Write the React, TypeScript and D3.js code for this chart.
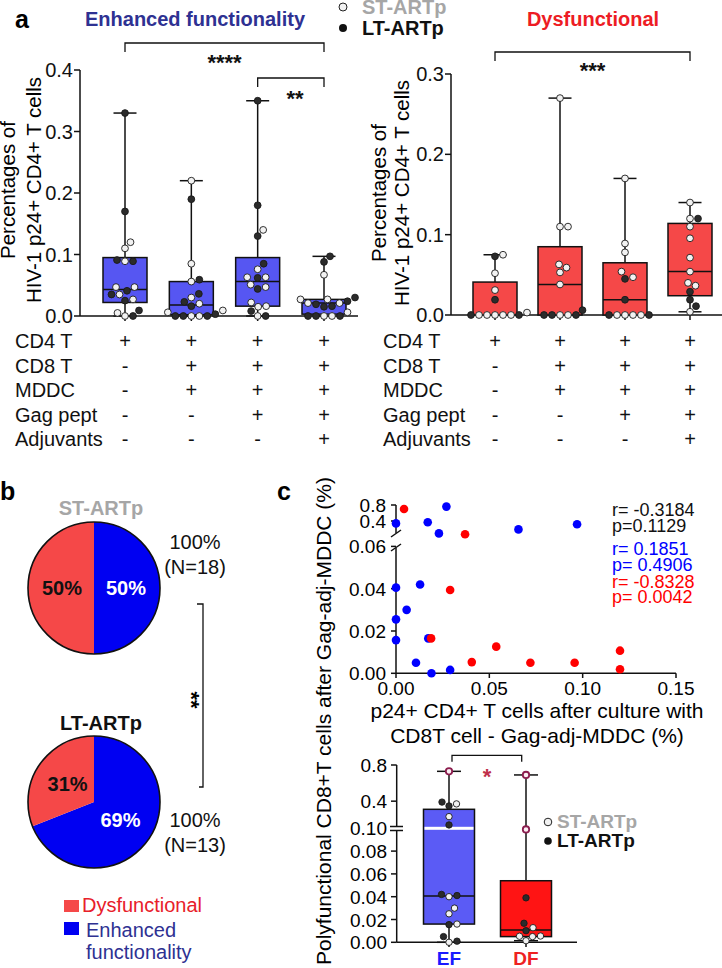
import React from 'react';
import * as d3 from 'd3';

const FONT = '"Liberation Sans", Arial, Helvetica, sans-serif';

// ---------- Panel a data ----------
const conditionRows = ['CD4 T', 'CD8 T', 'MDDC', 'Gag pept', 'Adjuvants'];
const conditionSigns = [
  ['+', '+', '+', '+'],
  ['-', '+', '+', '+'],
  ['-', '+', '+', '+'],
  ['-', '-', '+', '+'],
  ['-', '-', '-', '+'],
];
const groups = [0, 1, 2, 3];

// Enhanced functionality (left)
const efST = [
  [0.12, 0.11, 0.089, 0.047, 0.047, 0.035, 0.027, 0.005, 0],
  [0.22, 0.085, 0.056, 0.03, 0.02, 0.009, 0.006, 0, 0],
  [0.14, 0.076, 0.063, 0.063, 0.051, 0.047, 0.022, 0.016, 0.015, 0],
  [0.067, 0.027, 0.027, 0.021, 0.021, 0.006, 0, 0],
];
const efLT = [
  [0.33, 0.17, 0.089, 0.091, 0.041, 0.035, 0.025, 0.009, 0],
  [0.19, 0.059, 0.036, 0.023, 0.016, 0.003, 0, 0, 0],
  [0.35, 0.18, 0.13, 0.085, 0.062, 0.044, 0.008, 0],
  [0.097, 0.088, 0.03, 0.024, 0.019, 0.016, 0.015, 0, 0, 0],
];
const efQuartiles = [
  [0.022, 0.043, 0.095],
  [0.002, 0.018, 0.056],
  [0.016, 0.056, 0.095],
  [0.003, 0.021, 0.027],
];
const efTicks = [0, 0.1, 0.2, 0.3, 0.4];

// Dysfunctional (right)
const dfST = [
  [0.075, 0.052, 0.031, 0.003, 0, 0, 0, 0, 0],
  [0.27, 0.11, 0.11, 0.063, 0.059, 0.053, 0.038, 0, 0],
  [0.17, 0.089, 0.078, 0.054, 0.047, 0, 0, 0, 0],
  [0.14, 0.12, 0.11, 0.0955, 0.0714, 0.054, 0.04, 0.0365, 0.004],
];
const dfLT = [
  [0.073, 0.019, 0, 0],
  [0.006, 0, 0, 0],
  [0.045, 0.019, 0, 0],
  [0.12, 0.029, 0.019, 0.011],
];
const dfQuartiles = [
  [0, 0, 0.041],
  [0, 0.038, 0.085],
  [0, 0.019, 0.065],
  [0.024, 0.054, 0.114],
];
const dfTicks = [0, 0.1, 0.2, 0.3];

// ---------- Panel b data ----------
const pieGroups = ['ST-ARTp', 'LT-ARTp'];
const pieEnhanced = [50, 69];
const pieDysfunctional = [50, 31];
const pieN = [18, 13];

// ---------- Panel c scatter data ----------
const scEFx = [0.027, 0, 0.017, 0.023, 0.0656, 0.097, 0, 0.0129, 0.0057, 0, 0, 0.0173, 0.0107, 0.019, 0.029];
const scEFy = [0.76, 0.34, 0.37, 0.09, 0.19, 0.32, 0.0405, 0.042, 0.03, 0.0255, 0.0157, 0.0165, 0.005, 0, 0.0016];
const scDFx = [0.0043, 0.037, 0.029, 0.0188, 0.0537, 0.0406, 0.072, 0.0957, 0.12, 0.12];
const scDFy = [0.7, 0.067, 0.0394, 0.0165, 0.0126, 0.0053, 0.005, 0.005, 0.0107, 0.0019];
const scXTicks = [0, 0.05, 0.1, 0.15];
const scYTicksLower = [0, 0.02, 0.04, 0.06];
const scYTicksUpper = [0.4, 0.8];
const statR = ['r= -0.3184', 'r= 0.1851', 'r= -0.8328'];
const statP = ['p=0.1129', 'p= 0.4906', 'p= 0.0042'];

// ---------- Panel c box data ----------
const cCats = ['EF', 'DF'];
const cST = [
  [0.37, 0.229, 0.04, 0.03, 0.025, 0.016, 0],
  [0.0128, 0.0053, 0.005, 0.0055, 0.0014],
];
const cLT = [
  [0.39, 0.347, 0.137, 0.041, 0.042, 0.0155, 0.005, 0.001],
  [0.039, 0.0167, 0.0102],
];
const cHighlighted = [[0.73], [0.69, 0.099]];
const cQuartiles = [
  [0.016, 0.0406, 0.31],
  [0.005, 0.0108, 0.054],
];
const cTicksLower = [0, 0.02, 0.04, 0.06, 0.08, 0.1];
const cTicksUpper = [0.4, 0.8];

// ---------- helpers ----------
function swarm(ys: number[], minDist: number): number[] {
  const order = ys.map((_, i) => i).sort((a, b) => ys[b] - ys[a] || a - b);
  const placed: [number, number][] = [];
  const out = new Array(ys.length).fill(0);
  for (const i of order) {
    const yi = ys[i];
    let best = 0;
    for (let k = 0; k < 400; k++) {
      const off = k === 0 ? 0 : (k % 2 === 1 ? 1 : -1) * Math.ceil(k / 2) * 0.5;
      if (placed.every(([px, py]) => (px - off) ** 2 + (py - yi) ** 2 >= minDist * minDist - 0.01)) {
        best = off;
        break;
      }
    }
    out[i] = best;
    placed.push([best, yi]);
  }
  return out;
}

type Pt = { v: number; kind: 'st' | 'lt' | 'hl' };

function BoxGroup(props: {
  cx: number;
  y: (v: number) => number;
  quart: number[];
  pts: Pt[];
  fill: string;
  halfW: number;
  capW: number;
  r: number;
  breakY?: number;
}) {
  const { cx, y, quart, pts, fill, halfW, capW, r, breakY } = props;
  const vals = pts.map((p) => p.v);
  const mn = d3.min(vals)!;
  const mx = d3.max(vals)!;
  const [q1, med, q3] = quart;
  const pys = pts.map((p) => y(p.v));
  const dx = swarm(pys, 2 * r + 1.2);
  return (
    <g>
      <line x1={cx} x2={cx} y1={y(mx)} y2={y(q3)} stroke="#111" strokeWidth={1.5} />
      <line x1={cx} x2={cx} y1={y(q1)} y2={y(mn)} stroke="#111" strokeWidth={1.5} />
      <line x1={cx - capW} x2={cx + capW} y1={y(mx)} y2={y(mx)} stroke="#111" strokeWidth={1.5} />
      <line x1={cx - capW} x2={cx + capW} y1={y(mn)} y2={y(mn)} stroke="#111" strokeWidth={1.5} />
      <rect x={cx - halfW} y={y(q3)} width={2 * halfW} height={y(q1) - y(q3)} fill={fill} stroke="#111" strokeWidth={1.5} />
      {breakY !== undefined && y(q3) < breakY && (
        <rect x={cx - halfW + 1} y={breakY - 1.5} width={2 * halfW - 2} height={3} fill="#fff" />
      )}
      <line x1={cx - halfW} x2={cx + halfW} y1={y(med)} y2={y(med)} stroke="#111" strokeWidth={1.5} />
      {pts.map((p, i) => (
        <circle
          key={i}
          cx={cx + dx[i]}
          cy={pys[i]}
          r={r}
          fill={p.kind === 'lt' ? '#2b2b2b' : p.kind === 'st' ? '#f2f2f2' : '#fbeef3'}
          stroke={p.kind === 'hl' ? '#8b1d4e' : '#1a1a1a'}
          strokeWidth={p.kind === 'hl' ? 1.8 : 0.9}
        />
      ))}
    </g>
  );
}

function BoxPanel(props: {
  axisX: number;
  xEnd: number;
  y: d3.ScaleLinear<number, number>;
  centers: number[];
  st: number[][];
  lt: number[][];
  quart: number[][];
  ticks: number[];
  fill: string;
}) {
  const { axisX, xEnd, y, centers, st, lt, quart, ticks, fill } = props;
  const y0 = y(0);
  const top = y(ticks[ticks.length - 1]);
  return (
    <g>
      <line x1={axisX} x2={axisX} y1={top} y2={y0} stroke="#111" strokeWidth={1.5} />
      <line x1={axisX} x2={xEnd} y1={y0} y2={y0} stroke="#111" strokeWidth={1.5} />
      {ticks.map((t) => (
        <g key={t}>
          <line x1={axisX - 6} x2={axisX} y1={y(t)} y2={y(t)} stroke="#111" strokeWidth={1.5} />
          <text x={axisX - 7} y={y(t) + 7} fontSize={20} textAnchor="end" fill="#111">
            {d3.format('.1f')(t)}
          </text>
        </g>
      ))}
      {centers.map((c, gi) => {
        const pts: Pt[] = [
          ...st[gi].map((v) => ({ v, kind: 'st' as const })),
          ...lt[gi].map((v) => ({ v, kind: 'lt' as const })),
        ];
        return (
          <g key={gi}>
            <line x1={c} x2={c} y1={y0} y2={y0 + 5} stroke="#111" strokeWidth={1.5} />
            <BoxGroup cx={c} y={y} quart={quart[gi]} pts={pts} fill={fill} halfW={22} capW={11.5} r={3.4} />
          </g>
        );
      })}
    </g>
  );
}

function ConditionTable(props: { labelX: number; centers: number[] }) {
  const rowY = d3.scalePoint<number>().domain(conditionRows.map((_, i) => i)).range([348, 446]);
  return (
    <g fontSize={20} fill="#111">
      {conditionRows.map((r, ri) => (
        <g key={r}>
          <text x={props.labelX} y={rowY(ri)}>{r}</text>
          {conditionSigns[ri].map((s, ci) => (
            <text key={ci} x={props.centers[ci]} y={rowY(ri)} textAnchor="middle">{s}</text>
          ))}
        </g>
      ))}
    </g>
  );
}

function Bracket(props: { x1: number; x2: number; y: number; drop: number; label: string; lx?: number; ly: number; color?: string; size?: number }) {
  const { x1, x2, y, drop, label, lx, ly, color, size } = props;
  return (
    <g>
      <path d={`M${x1},${y + drop}V${y}H${x2}V${y + drop}`} fill="none" stroke="#111" strokeWidth={1.3} />
      <text x={lx ?? (x1 + x2) / 2} y={ly} fontSize={size ?? 22} fontWeight="bold" textAnchor="middle" fill={color ?? '#111'}>
        {label}
      </text>
    </g>
  );
}

export default function App() {
  // Panel a scales
  const efY = d3.scaleLinear().domain([0, 0.4]).range([316, 70]);
  const efX = d3.scalePoint<number>().domain(groups).range([125, 324]);
  const dfY = d3.scaleLinear().domain([0, 0.3]).range([315, 74]);
  const dfX = d3.scalePoint<number>().domain(groups).range([495, 690]);
  const efCenters = groups.map((g) => efX(g)!);
  const dfCenters = groups.map((g) => dfX(g)!);

  // Panel b
  const pie = d3.pie<number>().sort(null).value((d) => d);
  const pieR = 66;
  const arc = d3.arc<d3.PieArcDatum<number>>().innerRadius(0).outerRadius(pieR);
  const labelArc = d3.arc<d3.PieArcDatum<number>>().innerRadius(0).outerRadius(64);
  const pieCenters = [
    [94, 588],
    [94, 802],
  ];
  const pieColors = ['#0000f2', '#f54848'];

  // Panel c scatter
  const scX = d3.scaleLinear().domain([0, 0.15]).range([396, 676]);
  const scYLow = d3.scaleLinear().domain([0, 0.06]).range([673.3, 546.4]);
  const scYUp = d3.scaleLinear().domain([0.4, 0.8]).range([521, 505]);
  const scY = (v: number) => (v > 0.06 ? scYUp(v) : scYLow(v));

  // Panel c box
  const cYLow = d3.scaleLinear().domain([0, 0.1]).range([942.3, 828.3]);
  const cYUp = d3.scaleLinear().domain([0.1, 0.8]).range([828.3, 765]);
  const cY = (v: number) => (v > 0.1 ? cYUp(v) : cYLow(v));
  const cX = d3.scalePoint<string>().domain(cCats).range([449, 526]);

  return (
    <svg width={722} height={968} style={{ position: 'absolute', left: 0, top: 0 }} fontFamily={FONT}>
      <rect width={722} height={968} fill="#fff" />

      {/* ---------------- Panel a ---------------- */}
      <text x={15} y={28} fontSize={25} fontWeight="bold">a</text>
      <text x={195} y={26} fontSize={20} fontWeight="bold" fill="#2e3192" textAnchor="middle">Enhanced functionality</text>
      <text x={593} y={26} fontSize={20} fontWeight="bold" fill="#ed1c24" textAnchor="middle">Dysfunctional</text>

      {/* top legend */}
      <circle cx={343} cy={7} r={4} fill="#f2f2f2" stroke="#222" strokeWidth={1} />
      <circle cx={343} cy={28} r={4} fill="#111" />
      <text x={362} y={14} fontSize={20} fontWeight="bold" fill="#a6a6a6">ST-ARTp</text>
      <text x={362} y={35} fontSize={20} fontWeight="bold" fill="#111">LT-ARTp</text>

      {/* y labels */}
      <g fontSize={20.5} textAnchor="middle">
        <text transform={`translate(15,190) rotate(-90)`}>Percentages of</text>
        <text transform={`translate(41,190) rotate(-90)`}>HIV-1 p24+ CD4+ T cells</text>
        <text transform={`translate(386,193) rotate(-90)`}>Percentages of</text>
        <text transform={`translate(409,193) rotate(-90)`}>HIV-1 p24+ CD4+ T cells</text>
      </g>

      <BoxPanel axisX={80} xEnd={358} y={efY} centers={efCenters} st={efST} lt={efLT} quart={efQuartiles} ticks={efTicks} fill="#5656f2" />
      <BoxPanel axisX={451} xEnd={722} y={dfY} centers={dfCenters} st={dfST} lt={dfLT} quart={dfQuartiles} ticks={dfTicks} fill="#f54848" />

      <Bracket x1={efCenters[0]} x2={efCenters[3]} y={43} drop={9} label="****" ly={70} />
      <Bracket x1={efCenters[2]} x2={efCenters[3]} y={78} drop={9} label="**" lx={295} ly={106} />
      <Bracket x1={dfCenters[0]} x2={dfCenters[3]} y={52} drop={9} label="***" ly={78} />

      <ConditionTable labelX={15} centers={efCenters} />
      <ConditionTable labelX={383} centers={dfCenters} />

      {/* ---------------- Panel b ---------------- */}
      <text x={0} y={500} fontSize={25} fontWeight="bold">b</text>
      {pieGroups.map((g, i) => {
        const [cx, cy] = pieCenters[i];
        const arcs = pie([pieEnhanced[i], pieDysfunctional[i]]);
        return (
          <g key={g}>
            <text x={101} y={i === 0 ? 515 : 730} fontSize={20} fontWeight="bold" textAnchor="middle" fill={i === 0 ? '#a6a6a6' : '#111'}>
              {g}
            </text>
            <g transform={`translate(${cx},${cy})`}>
              {arcs.map((a, j) => (
                <path key={j} d={arc(a)!} fill={pieColors[j]} />
              ))}
              <circle r={pieR} fill="none" stroke="#111" strokeWidth={1.6} />
              {arcs.map((a, j) => {
                const [lx, ly] = labelArc.centroid(a);
                return (
                  <text key={j} x={lx} y={ly + 7} fontSize={20} fontWeight="bold" textAnchor="middle" fill={j === 0 ? '#fff' : '#111'}>
                    {a.data}%
                  </text>
                );
              })}
            </g>
            <text x={195} y={i === 0 ? 549 : 827} fontSize={20} textAnchor="middle" fill="#111">100%</text>
            <text x={195} y={i === 0 ? 574 : 852} fontSize={20} textAnchor="middle" fill="#111">(N={pieN[i]})</text>
          </g>
        );
      })}
      <path d="M197,604H203V787H199" fill="none" stroke="#111" strokeWidth={1.3} />
      <text transform="translate(184,700) rotate(90)" fontSize={22} fontWeight="bold" textAnchor="middle">**</text>

      {/* legend b */}
      <rect x={64} y={900} width={15} height={12} fill="#f54848" />
      <rect x={64} y={922} width={15} height={13} fill="#0000f2" />
      <text x={82} y={912} fontSize={20} fill="#e8202a">Dysfunctional</text>
      <text x={86} y={937} fontSize={20} fill="#2e3192">Enhanced</text>
      <text x={86} y={959} fontSize={20} fill="#2e3192">functionality</text>

      {/* ---------------- Panel c ---------------- */}
      <text x={277} y={500} fontSize={25} fontWeight="bold">c</text>
      <text transform="translate(331,721) rotate(-90)" fontSize={21} textAnchor="middle">Polyfunctional CD8+T cells after Gag-adj-MDDC (%)</text>

      {/* scatter axes */}
      <g stroke="#111" strokeWidth={1.5}>
        <line x1={396} x2={396} y1={505} y2={533} />
        <line x1={396} x2={396} y1={548} y2={673.3} />
        <line x1={391} x2={401} y1={537} y2={530} />
        <line x1={391} x2={401} y1={551} y2={544} />
        <line x1={396} x2={676} y1={673.3} y2={673.3} />
        {scYTicksUpper.map((t) => (
          <line key={t} x1={391} x2={396} y1={scYUp(t)} y2={scYUp(t)} />
        ))}
        {scYTicksLower.map((t) => (
          <line key={t} x1={391} x2={396} y1={scYLow(t)} y2={scYLow(t)} />
        ))}
        {scXTicks.map((t) => (
          <line key={t} x1={scX(t)} x2={scX(t)} y1={673.3} y2={678} />
        ))}
      </g>
      <g fontSize={19} textAnchor="end">
        {scYTicksUpper.map((t) => (
          <text key={t} x={386} y={scYUp(t) + 7}>{d3.format('.1f')(t)}</text>
        ))}
        {scYTicksLower.map((t) => (
          <text key={t} x={386} y={scYLow(t) + 7}>{d3.format('.2f')(t)}</text>
        ))}
      </g>
      <g fontSize={19} textAnchor="middle">
        {scXTicks.map((t) => (
          <text key={t} x={scX(t)} y={695}>{d3.format('.2f')(t)}</text>
        ))}
      </g>
      <text x={537} y={718} fontSize={21} textAnchor="middle">p24+ CD4+ T cells after culture with</text>
      <text x={537} y={743} fontSize={21} textAnchor="middle">CD8T cell - Gag-adj-MDDC (%)</text>
      {scEFx.map((x, i) => (
        <circle key={'e' + i} cx={scX(x)} cy={scY(scEFy[i])} r={4.3} fill="#0000ff" />
      ))}
      {scDFx.map((x, i) => (
        <circle key={'d' + i} cx={scX(x)} cy={scY(scDFy[i])} r={4.3} fill="#ff0000" />
      ))}
      <g fontSize={18}>
        {statR.map((r, i) => (
          <g key={r} fill={['#111', '#0000ff', '#ff0000'][i]}>
            <text x={612} y={[516, 555, 588][i]}>{r}</text>
            <text x={612} y={[532, 571, 603][i]}>{statP[i]}</text>
          </g>
        ))}
      </g>

      {/* box c axes */}
      <g stroke="#111" strokeWidth={1.5}>
        <line x1={396.7} x2={396.7} y1={765} y2={826.5} />
        <line x1={396.7} x2={396.7} y1={830.5} y2={942.3} />
        <line x1={390} x2={403} y1={826.5} y2={826.5} />
        <line x1={390} x2={403} y1={830.5} y2={830.5} />
        <line x1={396.7} x2={577} y1={942.3} y2={942.3} />
        {cTicksUpper.map((t) => (
          <line key={t} x1={391} x2={396.7} y1={cYUp(t)} y2={cYUp(t)} />
        ))}
        {cTicksLower.filter((t) => t < 0.1).map((t) => (
          <line key={t} x1={391} x2={396.7} y1={cYLow(t)} y2={cYLow(t)} />
        ))}
        {cCats.map((c) => (
          <line key={c} x1={cX(c)} x2={cX(c)} y1={942.3} y2={947} />
        ))}
      </g>
      <g fontSize={19} textAnchor="end">
        {cTicksUpper.map((t) => (
          <text key={t} x={387} y={cYUp(t) + 7}>{d3.format('.1f')(t)}</text>
        ))}
        {cTicksLower.map((t) => (
          <text key={t} x={387} y={cYLow(t) + 7}>{d3.format('.2f')(t)}</text>
        ))}
      </g>
      {cCats.map((c, i) => {
        const pts: Pt[] = [
          ...cHighlighted[i].map((v) => ({ v, kind: 'hl' as const })),
          ...cST[i].map((v) => ({ v, kind: 'st' as const })),
          ...cLT[i].map((v) => ({ v, kind: 'lt' as const })),
        ];
        return (
          <BoxGroup key={c} cx={cX(c)!} y={cY} quart={cQuartiles[i]} pts={pts} fill={i === 0 ? '#5b5bf5' : '#ff1414'} halfW={25.5} capW={12} r={3.2} breakY={828.3} />
        );
      })}
      <Bracket x1={452} x2={521.7} y={755.3} drop={6.5} label="*" lx={487} ly={784} color="#c0304a" />
      {cCats.map((c, i) => (
        <text key={c} x={cX(c)} y={965} fontSize={19} fontWeight="bold" textAnchor="middle" fill={i === 0 ? '#1a1aff' : '#ee2222'}>
          {c}
        </text>
      ))}
      <circle cx={548} cy={822} r={3.8} fill="#f2f2f2" stroke="#222" strokeWidth={1} />
      <circle cx={548} cy={841} r={3.8} fill="#111" />
      <text x={557} y={828} fontSize={19} fontWeight="bold" fill="#a6a6a6">ST-ARTp</text>
      <text x={557} y={847} fontSize={19} fontWeight="bold" fill="#111">LT-ARTp</text>
    </svg>
  );
}
